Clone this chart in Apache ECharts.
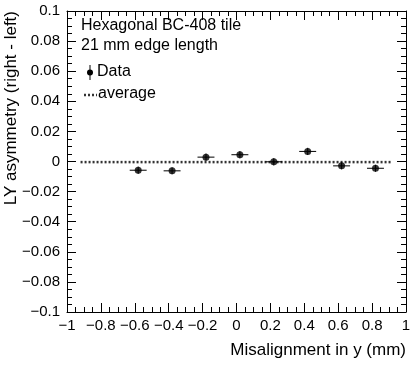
<!DOCTYPE html>
<html>
<head>
<meta charset="utf-8">
<script src="https://cdn.jsdelivr.net/npm/echarts@6/dist/echarts.min.js"></script>
<style>
  html, body { margin: 0; padding: 0; background: #fff; }
  #chart { width: 419px; height: 365px; }
</style>
</head>
<body>
<div id="chart"></div>
<script>
// misalignment positions (mm) and measured LY asymmetry
const xVals = [-0.58, -0.38, -0.18, 0.02, 0.22, 0.42, 0.62, 0.82];
const yVals = [-0.0058, -0.0062, 0.0029, 0.0045, -0.0002, 0.0067, -0.0029, -0.0045];
const xErr = [0.05, 0.05, 0.05, 0.05, 0.05, 0.05, 0.05, 0.05];
const yErr = [0.0024, 0.0023, 0.0024, 0.0024, 0.0024, 0.0024, 0.0023, 0.0023];
// average line
const avgValue = -0.0004;
const avgRange = [-0.92, 0.92];
// axes
const xRange = [-1, 1];
const yRange = [-0.1, 0.1];

const FONT = 'Liberation Sans';
const fmt = v => {
    let s = String(+v.toFixed(3));
    return s.replace('-', '\u2212');
};

let myChart = echarts.init(document.getElementById('chart'));

let baseX = {
    type: 'value',
    min: xRange[0],
    max: xRange[1],
    interval: 0.2,
    axisLine: { show: true, onZero: false, lineStyle: { color: '#000', width: 1 } },
    axisTick: { show: true, inside: true, length: 9, lineStyle: { color: '#000' } },
    minorTick: { show: true, splitNumber: 4, length: 5, lineStyle: { color: '#000' } },
    splitLine: { show: false },
    minorSplitLine: { show: false }
};
let baseY = {
    type: 'value',
    min: yRange[0],
    max: yRange[1],
    interval: 0.02,
    axisLine: { show: true, onZero: false, lineStyle: { color: '#000', width: 1 } },
    axisTick: { show: true, inside: true, length: 9, lineStyle: { color: '#000' } },
    minorTick: { show: true, splitNumber: 4, length: 5, lineStyle: { color: '#000' } },
    splitLine: { show: false },
    minorSplitLine: { show: false }
};

let legendFont = '16px "Liberation Sans"';
let titleFont = '17px "Liberation Sans"';

let option = {
    animation: false,
    grid: { left: 67, right: 13, top: 11, bottom: 53 },
    xAxis: [
        Object.assign({}, baseX, {
            position: 'bottom',
            axisLabel: { show: true, color: '#000', fontFamily: FONT, fontSize: 15, margin: 6, formatter: fmt }
        }),
        Object.assign({}, baseX, { position: 'top', axisLabel: { show: false } })
    ],
    yAxis: [
        Object.assign({}, baseY, {
            position: 'left',
            axisLabel: { show: true, color: '#000', fontFamily: FONT, fontSize: 15, margin: 7, formatter: fmt }
        }),
        Object.assign({}, baseY, { position: 'right', axisLabel: { show: false } })
    ],
    graphic: [
        { type: 'text', left: 81, top: 18, style: { text: 'Hexagonal BC-408 tile', font: legendFont, fill: '#000' } },
        { type: 'text', left: 81, top: 38, style: { text: '21 mm edge length', font: legendFont, fill: '#000' } },
        { type: 'line', shape: { x1: 90, y1: 65, x2: 90, y2: 80 }, style: { stroke: '#000', lineWidth: 1 } },
        { type: 'circle', shape: { cx: 90, cy: 72.5, r: 3 }, style: { fill: '#000' } },
        { type: 'text', left: 97, top: 64, style: { text: 'Data', font: legendFont, fill: '#000' } },
        { type: 'line', shape: { x1: 84, y1: 95, x2: 97, y2: 95 }, style: { stroke: '#333', lineWidth: 2.5, lineDash: [2, 2] } },
        { type: 'text', left: 98, top: 86, style: { text: 'average', font: legendFont, fill: '#000' } },
        { type: 'text', right: 13, top: 342, style: { text: 'Misalignment in y (mm)', font: titleFont, fill: '#000' } },
        { type: 'text', left: 3, top: 11, rotation: Math.PI / 2, originX: 0, originY: 0,
          style: { text: 'LY asymmetry (right - left)', font: titleFont, fill: '#000', align: 'right', verticalAlign: 'top' } }
    ],
    series: [
        {
            name: 'average',
            type: 'line',
            symbol: 'none',
            silent: true,
            lineStyle: { color: '#333', width: 2.5, type: [2, 2] },
            data: [[avgRange[0], avgValue], [avgRange[1], avgValue]],
            z: 1
        },
        {
            name: 'errors',
            type: 'custom',
            silent: true,
            renderItem: function (params, api) {
                let i = params.dataIndex;
                let x = api.value(0), y = api.value(1);
                let l = api.coord([x - xErr[i], y]);
                let r = api.coord([x + xErr[i], y]);
                let t = api.coord([x, y + yErr[i]]);
                let b = api.coord([x, y - yErr[i]]);
                return {
                    type: 'group',
                    children: [
                        { type: 'line', shape: { x1: l[0], y1: l[1], x2: r[0], y2: r[1] }, style: { stroke: '#000', lineWidth: 1 } },
                        { type: 'line', shape: { x1: t[0], y1: t[1], x2: b[0], y2: b[1] }, style: { stroke: '#000', lineWidth: 1 } }
                    ]
                };
            },
            data: xVals.map((x, i) => [x, yVals[i]]),
            z: 2
        },
        {
            name: 'Data',
            type: 'scatter',
            symbol: 'circle',
            symbolSize: 7,
            itemStyle: { color: '#000' },
            data: xVals.map((x, i) => [x, yVals[i]]),
            z: 3
        }
    ]
};
myChart.setOption(option);
</script>
</body>
</html>
